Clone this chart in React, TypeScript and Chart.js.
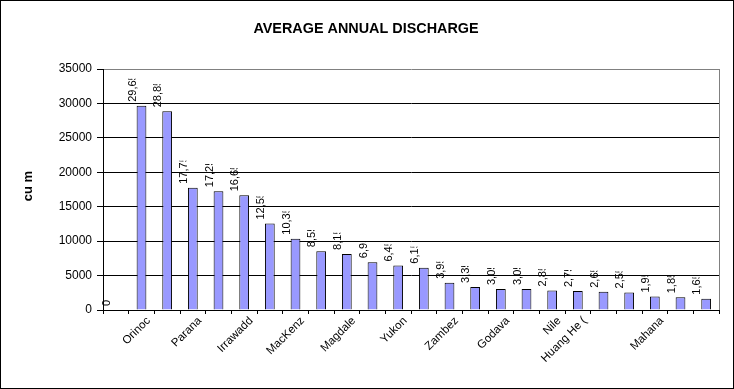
import React, { useEffect, useRef } from "react";
import { Chart, registerables } from "chart.js";

Chart.register(...registerables);

const categories: string[] = [
  "", "Orinoc", "", "Parana", "", "Irrawadd", "", "MacKenz", "", "Magdale", "",
  "Yukon", "", "Zambez", "", "Godava", "", "Nile", "Huang He (", "", "", "Mahana", "", "",
];

const discharge: number[] = [
  0, 29650, 28850, 17750, 17250, 16650, 12550, 10350, 8550, 8150, 6950, 6450,
  6150, 3950, 3350, 3050, 3050, 2850, 2750, 2650, 2550, 1950, 1850, 1650,
];

const yTicks: number[] = [0, 5000, 10000, 15000, 20000, 25000, 30000, 35000];

const titleText = "AVERAGE ANNUAL DISCHARGE";
const yTitleText = "cu m";

const FONT = '"Liberation Sans", Arial, sans-serif';

export default function App() {
  const ref = useRef<HTMLCanvasElement | null>(null);

  useEffect(() => {
    const canvas = ref.current;
    if (!canvas) return;

    const decor = {
      id: "decor",
      afterDatasetsDraw(chart: any) {
        const ctx = chart.ctx;
        const meta = chart.getDatasetMeta(0);
        ctx.save();
        ctx.font = `11px ${FONT}`;
        ctx.fillStyle = "#000";
        ctx.textAlign = "left";
        ctx.textBaseline = "middle";
        meta.data.forEach((bar: any, i: number) => {
          const v = discharge[i];
          const text = v.toLocaleString("en-US");
          const w = ctx.measureText(text).width;
          const clipLen = v === 0 ? w + 2 : w - 10.5;
          ctx.save();
          ctx.translate(bar.x - 9, bar.y - 4);
          ctx.rotate(-Math.PI / 2);
          ctx.beginPath();
          ctx.rect(0, -8, clipLen, 16);
          ctx.clip();
          ctx.fillText(text, 0, 0);
          ctx.restore();
        });
        ctx.restore();
      },
      afterDraw(chart: any) {
        const ctx = chart.ctx;
        const a = chart.chartArea;
        ctx.save();
        ctx.strokeStyle = "#808080";
        ctx.lineWidth = 1;
        ctx.beginPath();
        ctx.moveTo(Math.round(a.right) + 0.5, a.top);
        ctx.lineTo(Math.round(a.right) + 0.5, a.bottom);
        ctx.stroke();
        ctx.strokeStyle = "#000";
        ctx.strokeRect(0.5, 0.5, chart.width - 1, chart.height - 1);
        ctx.fillStyle = "#000";
        ctx.font = `bold 14.4px ${FONT}`;
        ctx.textAlign = "center";
        ctx.textBaseline = "alphabetic";
        ctx.fillText(titleText, 366, 33);
        ctx.font = `bold 13px ${FONT}`;
        ctx.translate(28, 186);
        ctx.rotate(-Math.PI / 2);
        ctx.textBaseline = "middle";
        ctx.fillText(yTitleText, 0, 0);
        ctx.restore();
      },
    };

    const chart = new Chart(canvas, {
      type: "bar",
      data: {
        labels: categories,
        datasets: [
          {
            data: discharge,
            backgroundColor: "#9999FF",
            borderColor: "#000",
            borderWidth: 1,
            barPercentage: 0.38,
            categoryPercentage: 1,
          },
        ],
      },
      options: {
        responsive: false,
        animation: false,
        layout: { padding: { top: 69, right: 15, left: 0, bottom: 0 } },
        plugins: {
          legend: { display: false },
          title: { display: false },
          tooltip: { enabled: false },
        },
        scales: {
          x: {
            afterFit: (s: any) => {
              s.height = 79;
            },
            grid: {
              drawOnChartArea: false,
              drawTicks: true,
              tickLength: 4,
              color: "#000",
              offset: true,
            },
            border: { color: "#000", width: 1 },
            ticks: {
              autoSkip: false,
              maxRotation: 45,
              minRotation: 45,
              color: "#000",
              padding: 0,
              labelOffset: 7,
              font: { family: FONT, size: 11.5 },
            },
          },
          y: {
            min: 0,
            max: 35000,
            afterFit: (s: any) => {
              s.width = 103;
            },
            afterBuildTicks: (s: any) => {
              s.ticks = yTicks.map((v) => ({ value: v }));
            },
            grid: {
              color: (c: any) =>
                c.tick && c.tick.value === 35000 ? "#808080" : "#000",
              tickColor: "#000",
              tickLength: 6,
            },
            border: { color: "#000", width: 1 },
            ticks: {
              color: "#000",
              padding: 5,
              font: { family: FONT, size: 12 },
              callback: (v: any) => String(v),
            },
          },
        },
      },
      plugins: [decor],
    });

    return () => chart.destroy();
  }, []);

  return (
    <div style={{ position: "absolute", left: 0, top: 0, width: 734, height: 389, background: "#fff" }}>
      <canvas ref={ref} width={734} height={389} style={{ display: "block" }} />
    </div>
  );
}
